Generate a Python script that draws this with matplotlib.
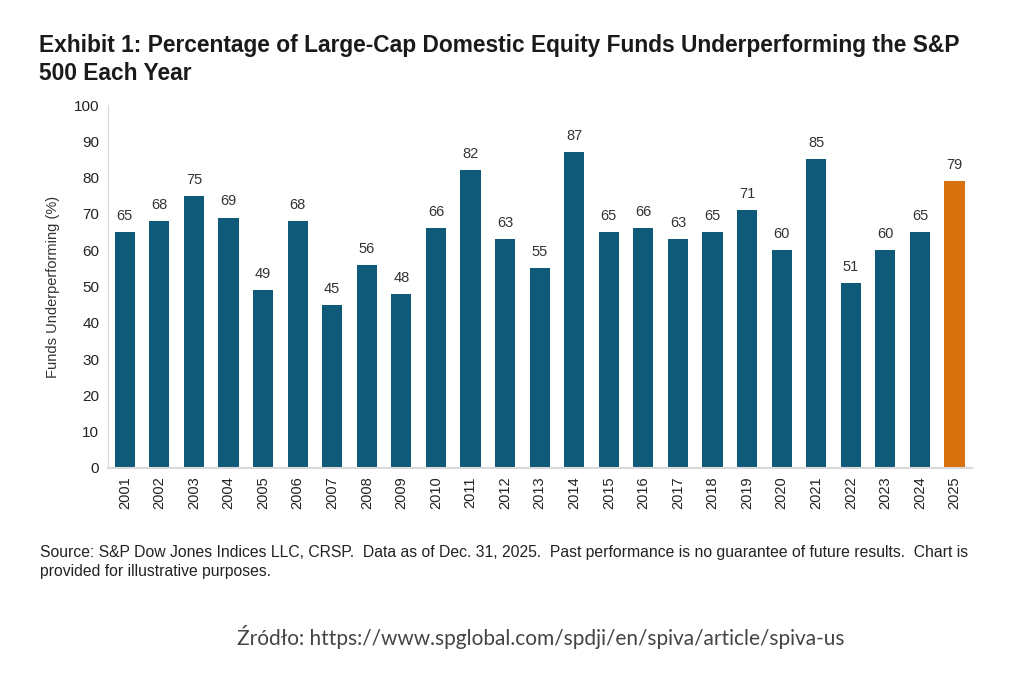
import matplotlib.pyplot as plt

years = [str(y) for y in range(2001, 2026)]
values = [65, 68, 75, 69, 49, 68, 45, 56, 48, 66, 82, 63, 55, 87,
          65, 66, 63, 65, 71, 60, 85, 51, 60, 65, 79]
y_ticks = list(range(0, 101, 10))

BLUE = '#0f5a78'
ORANGE = '#d9700e'
FONT = ['Liberation Sans', 'DejaVu Sans']

plt.rcParams['font.family'] = FONT

fig = plt.figure(figsize=(10.24, 6.78), dpi=100)
ax = fig.add_axes([0.105, 0.31, 0.844, 0.535])

colors = [BLUE] * (len(values) - 1) + [ORANGE]
x = list(range(len(years)))
bars = ax.bar(x, values, width=0.58, color=colors)

for rect, v in zip(bars, values):
    ax.text(rect.get_x() + rect.get_width() / 2, v + 2.5, str(v),
            ha='center', va='bottom', fontsize=10.5, color='#333333')

ax.set_xlim(-0.5, len(years) - 0.5)
ax.set_ylim(0, 100)
ax.set_yticks(y_ticks)
ax.set_xticks(x)
ax.set_xticklabels(years, rotation=90, fontsize=10.5, color='#222222')
for lbl in ax.get_yticklabels():
    lbl.set_fontsize(11)
    lbl.set_color('#222222')
ax.tick_params(length=0, pad=6)
ax.set_ylabel('Funds Underperforming (%)', fontsize=10.5, color='#333333',
              labelpad=10)

for side in ['top', 'right']:
    ax.spines[side].set_visible(False)
ax.spines['left'].set_color('#d9d9d9')
ax.spines['bottom'].set_color('#d9d9d9')
ax.spines['bottom'].set_linewidth(1.5)

fig.text(0.038, 0.912,
         'Exhibit 1: Percentage of Large-Cap Domestic Equity Funds Underperforming the S&P\n500 Each Year',
         fontsize=16.4, fontweight='bold', color='#1a1a1a', va='center',
         linespacing=1.25)

fig.text(0.039, 0.171,
         'Source: S&P Dow Jones Indices LLC, CRSP.  Data as of Dec. 31, 2025.  '
         'Past performance is no guarantee of future results.  Chart is\n'
         'provided for illustrative purposes.',
         fontsize=11.3, color='#222222', va='center', linespacing=1.3)

fig.text(0.528, 0.06,
         'Źródło: https://www.spglobal.com/spdji/en/spiva/article/spiva-us',
         fontsize=15, color='#444444', ha='center', va='center',
         family=['Lato', 'DejaVu Sans'])

fig.savefig('out.png', dpi=100)
